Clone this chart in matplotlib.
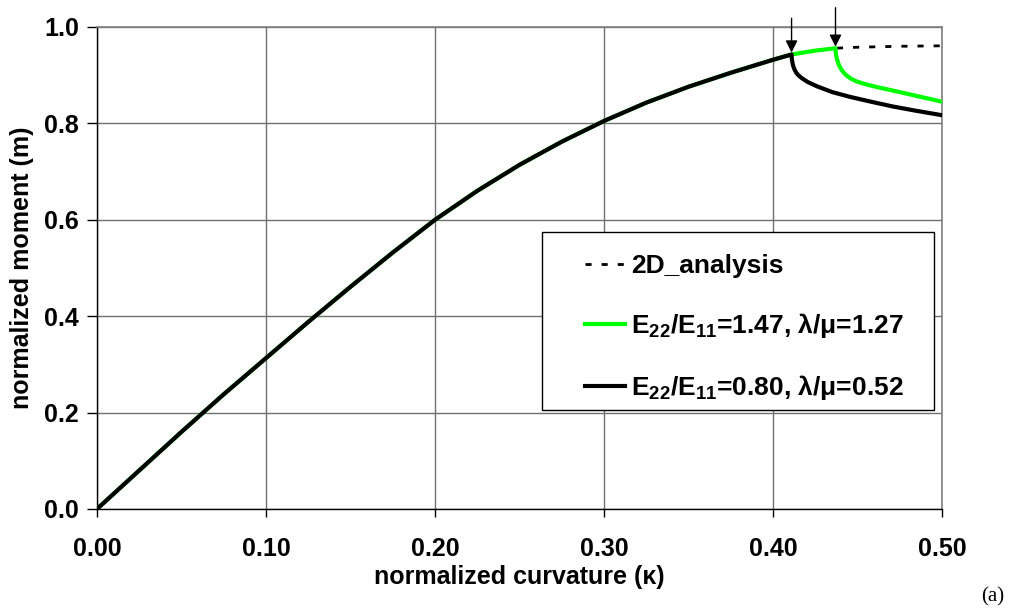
import matplotlib
matplotlib.use('Agg')
import matplotlib.pyplot as plt
from matplotlib.patches import Rectangle

plt.rcParams.update({
    'font.family': ['Liberation Sans', 'DejaVu Sans'],
    'font.weight': 'bold',
    'mathtext.fontset': 'custom',
    'mathtext.rm': 'Liberation Sans:bold',
    'mathtext.bf': 'Liberation Sans:bold',
    'mathtext.it': 'Liberation Sans:bold:italic',
    'mathtext.default': 'bf',
})

# 2D analysis (full curve, shown dashed beyond the bifurcations)
k_2d = [0.0, 0.025, 0.05, 0.075, 0.1, 0.125, 0.15, 0.175, 0.2, 0.225, 0.25, 0.275,
        0.3, 0.325, 0.35, 0.375, 0.4, 0.411, 0.425, 0.437, 0.45, 0.475, 0.5]
m_2d = [0.0, 0.080, 0.160, 0.238, 0.313, 0.388, 0.461, 0.532, 0.600, 0.660, 0.714, 0.762,
        0.805, 0.843, 0.876, 0.905, 0.932, 0.943, 0.951, 0.956, 0.958, 0.960, 0.961]

# E22/E11=1.47 (green): follows 2D curve up to 0.437, then drops
k_green = [0.0, 0.025, 0.05, 0.075, 0.1, 0.125, 0.15, 0.175, 0.2, 0.225, 0.25, 0.275,
           0.3, 0.325, 0.35, 0.375, 0.4, 0.411, 0.425, 0.437,
           0.4371, 0.4374, 0.4379, 0.4386, 0.4396, 0.441, 0.443, 0.446, 0.4495, 0.455,
           0.462, 0.471, 0.48, 0.49, 0.5]
m_green = [0.0, 0.080, 0.160, 0.238, 0.313, 0.388, 0.461, 0.532, 0.600, 0.660, 0.714, 0.762,
           0.805, 0.843, 0.876, 0.905, 0.932, 0.943, 0.951, 0.956,
           0.949, 0.941, 0.933, 0.925, 0.917, 0.909, 0.901, 0.893, 0.887, 0.881,
           0.875, 0.868, 0.861, 0.853, 0.845]

# E22/E11=0.80 (black): bifurcates at 0.411
k_black = [0.0, 0.025, 0.05, 0.075, 0.1, 0.125, 0.15, 0.175, 0.2, 0.225, 0.25, 0.275,
           0.3, 0.325, 0.35, 0.375, 0.4, 0.411,
           0.4111, 0.4114, 0.4119, 0.4126, 0.4136, 0.415, 0.417, 0.4205, 0.426, 0.435,
           0.4456, 0.458, 0.471, 0.485, 0.5]
m_black = [0.0, 0.080, 0.160, 0.238, 0.313, 0.388, 0.461, 0.532, 0.600, 0.660, 0.714, 0.762,
           0.805, 0.843, 0.876, 0.905, 0.932, 0.943,
           0.936, 0.928, 0.920, 0.913, 0.906, 0.900, 0.894, 0.886, 0.877, 0.865,
           0.855, 0.845, 0.835, 0.826, 0.817]

bif_k = [0.411, 0.437]
bif_m = [0.944, 0.956]
arrow_len = [0.074, 0.084]

labels = ['2D_analysis',
          r'E$_{22}$/E$_{11}$=1.47, $\lambda$/μ=1.27',
          r'E$_{22}$/E$_{11}$=0.80, $\lambda$/μ=0.52']

fig = plt.figure(figsize=(10.19, 6.15), dpi=100)
ax = fig.add_axes([0.0952, 0.1724, 0.8292, 0.7837])

ax.plot(k_2d, m_2d, color='black', lw=2.0, dashes=(2.2, 3.6), zorder=2, label=labels[0])
ax.plot(k_green, m_green, color='#00FF00', lw=3.0, zorder=3, label=labels[1])
ax.plot(k_black, m_black, color='black', lw=3.0, zorder=3, label=labels[2])

for k, m, L in zip(bif_k, bif_m, arrow_len):
    ax.annotate('', xy=(k, m + 0.003), xytext=(k, m + L),
                arrowprops=dict(arrowstyle='-|>', color='black', lw=1.0,
                                mutation_scale=18, shrinkA=0, shrinkB=0),
                annotation_clip=False, zorder=6)

ax.set_xlim(0, 0.5)
ax.set_ylim(0, 1.0)
ax.set_xticks([0, 0.1, 0.2, 0.3, 0.4, 0.5])
ax.set_xticklabels(['0.00', '0.10', '0.20', '0.30', '0.40', '0.50'])
ax.set_yticks([0, 0.2, 0.4, 0.6, 0.8, 1.0])
ax.set_yticklabels(['0.0', '0.2', '0.4', '0.6', '0.8', '1.0'])
ax.tick_params(axis='x', direction='out', length=6, width=1, labelsize=18, pad=14)
ax.tick_params(axis='y', direction='out', length=7, width=1, labelsize=18, pad=6)
ax.grid(True, color='#707070', lw=1.0, zorder=0)
ax.set_axisbelow(True)
for s in ['left', 'bottom']:
    ax.spines[s].set_color('black')
    ax.spines[s].set_linewidth(1.0)
for s in ['top', 'right']:
    ax.spines[s].set_color('#808080')
    ax.spines[s].set_linewidth(1.2)

ax.set_xlabel('normalized curvature (κ)', fontsize=18, fontweight='bold', labelpad=3)
ax.set_ylabel('normalized moment (m)', fontsize=18, fontweight='bold', labelpad=7)

# legend frame and entries
ax.add_patch(Rectangle((0.527, 0.205), 0.463, 0.370, transform=ax.transAxes,
                       facecolor='white', edgecolor='black', lw=1.0, zorder=4))
leg = ax.legend(loc='upper left', bbox_to_anchor=(0.5775, 0.528), frameon=False,
                fontsize=19, handlelength=1.5, handletextpad=0.25, borderpad=0,
                borderaxespad=0, labelspacing=1.25)
leg.set_zorder(5)

fig.text(0.974, 0.03, '(a)', fontsize=15, fontweight='normal', family='Liberation Serif',
         ha='center', va='center')

plt.savefig('out.png', dpi=100)
